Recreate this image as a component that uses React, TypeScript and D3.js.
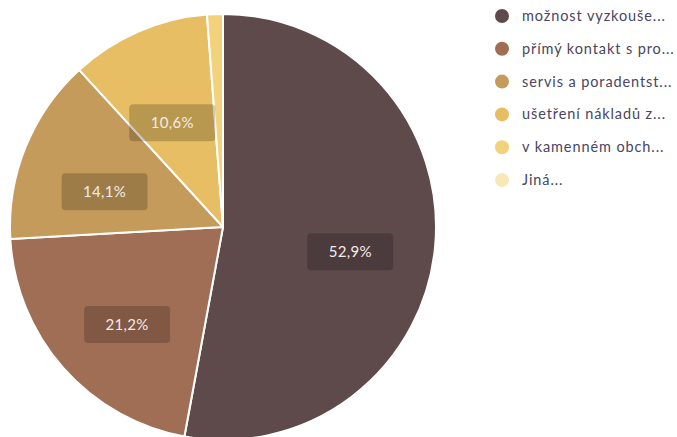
import React from "react";
import * as d3 from "d3";

const categories = [
  "možnost vyzkoušet",
  "přímý kontakt s prodejcem",
  "servis a poradenství",
  "ušetření nákladů za dopravu",
  "v kamenném obchodě",
  "Jiná",
];
const legendLabels = [
  "možnost vyzkouše...",
  "přímý kontakt s pro...",
  "servis a poradentst...",
  "ušetření nákladů z...",
  "v kamenném obch...",
  "Jiná...",
];
const values = [52.9, 21.2, 14.1, 10.6, 1.2, 0];
const colors = ["#5f4a4b", "#a06e55", "#c59b5b", "#e7be63", "#f3d27c", "#f8e7b7"];

const W = 677;
const H = 437;

export default function App() {
  const cx = 223;
  const cy = 227;
  const r = 213;
  const pie = d3.pie<number>().value((d) => d).sort(null);
  const arcs = pie(values);
  const arc = d3.arc<d3.PieArcDatum<number>>().innerRadius(0).outerRadius(r);
  const labelArc = d3.arc<d3.PieArcDatum<number>>().innerRadius(r * 0.6).outerRadius(r * 0.6);
  const fmt = (v: number) => v.toFixed(1).replace(".", ",") + "%";
  const legendY = d3.scalePoint<number>().domain(d3.range(categories.length)).range([16, 180]);

  return (
    <svg width={W} height={H} style={{ position: "absolute", left: 0, top: 0, background: "#fff" }}>
      <g transform={`translate(${cx},${cy})`}>
        {arcs.map((a, i) => (
          <path key={i} d={arc(a) || ""} fill={colors[i]} stroke="#fff" strokeWidth={2} strokeLinejoin="round" />
        ))}
        {arcs.map((a, i) => {
          if (a.data < 5) return null;
          const [x, y] = labelArc.centroid(a);
          const bw = 86;
          const bh = 37;
          return (
            <g key={"l" + i} transform={`translate(${x},${y + 13})`}>
              <rect x={-bw / 2} y={-bh / 2} width={bw} height={bh} rx={4} fill="rgba(0,0,0,0.2)" />
              <text
                textAnchor="middle"
                dy="0.35em"
                fontFamily="Lato, 'Open Sans', sans-serif"
                fontSize={15}
                fill="#f3ebe6"
                letterSpacing={0.3}
              >
                {fmt(a.data)}
              </text>
            </g>
          );
        })}
      </g>
      <g>
        {legendLabels.map((l, i) => (
          <g key={i} transform={`translate(502,${legendY(i)})`}>
            <circle r={7} fill={colors[i]} />
            <text
              x={20}
              dy="0.35em"
              fontFamily="Lato, 'Open Sans', sans-serif"
              fontSize={14.5}
              letterSpacing={0.9}
              fill="#4a4560"
            >
              <title>{categories[i]}</title>
              {l}
            </text>
          </g>
        ))}
      </g>
    </svg>
  );
}
